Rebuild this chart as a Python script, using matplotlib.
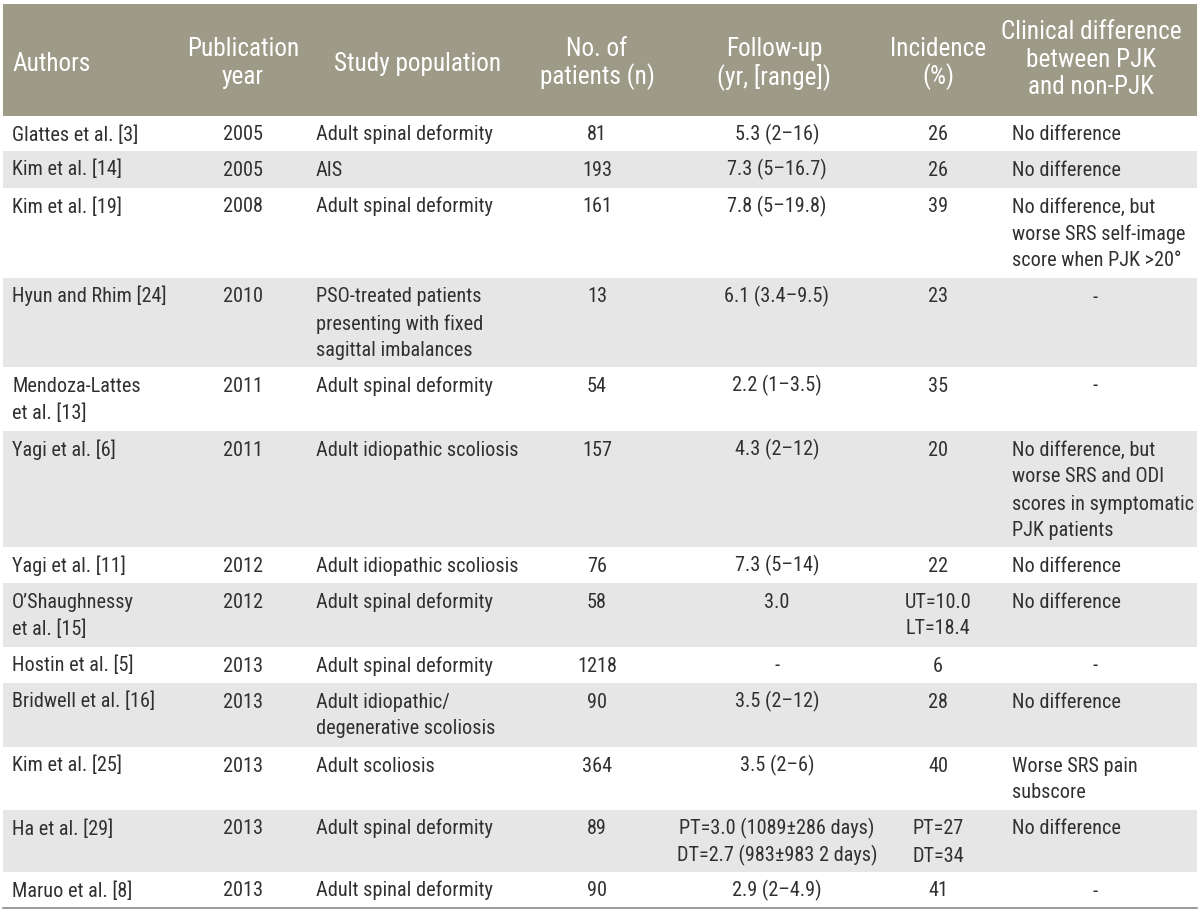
import matplotlib
matplotlib.use("Agg")
import matplotlib.pyplot as plt
from matplotlib.patches import Rectangle

# ---------------- data ----------------
headers = ["Authors", "Publication\nyear", "Study population", "No. of\npatients (n)",
           "Follow-up\n(yr, [range])", "Incidence\n(%)",
           "Clinical difference\nbetween PJK\nand non-PJK"]

authors = ["Glattes et al. [3]", "Kim et al. [14]", "Kim et al. [19]", "Hyun and Rhim [24]",
           "Mendoza-Lattes\net al. [13]", "Yagi et al. [6]", "Yagi et al. [11]",
           "O\u2019Shaughnessy\net al. [15]", "Hostin et al. [5]", "Bridwell et al. [16]",
           "Kim et al. [25]", "Ha et al. [29]", "Maruo et al. [8]"]
years = ["2005", "2005", "2008", "2010", "2011", "2011", "2012", "2012", "2013", "2013",
         "2013", "2013", "2013"]
populations = ["Adult spinal deformity", "AIS", "Adult spinal deformity",
               "PSO-treated patients\npresenting with fixed\nsagittal imbalances",
               "Adult spinal deformity", "Adult idiopathic scoliosis",
               "Adult idiopathic scoliosis", "Adult spinal deformity", "Adult spinal deformity",
               "Adult idiopathic/\ndegenerative scoliosis", "Adult scoliosis",
               "Adult spinal deformity", "Adult spinal deformity"]
n_patients = ["81", "193", "161", "13", "54", "157", "76", "58", "1218", "90", "364", "89", "90"]
follow_up = ["5.3 (2\u201316)", "7.3 (5\u201316.7)", "7.8 (5\u201319.8)", "6.1 (3.4\u20139.5)",
             "2.2 (1\u20133.5)", "4.3 (2\u201312)", "7.3 (5\u201314)", "3.0", "-",
             "3.5 (2\u201312)", "3.5 (2\u20136)",
             "PT=3.0 (1089\u00b1286 days)\nDT=2.7 (983\u00b1983 2 days)", "2.9 (2\u20134.9)"]
incidence = ["26", "26", "39", "23", "35", "20", "22", "UT=10.0\nLT=18.4", "6", "28", "40",
             "PT=27\nDT=34", "41"]
clinical = ["No difference", "No difference",
            "No difference, but\nworse SRS self-image\nscore when PJK >20\u00b0", "-", "-",
            "No difference, but\nworse SRS and ODI\nscores in symptomatic\nPJK patients",
            "No difference", "No difference", "-", "No difference",
            "Worse SRS pain\nsubscore", "No difference", "-"]

# ---------------- layout / style ----------------
W, H = 1200, 914
row_edges = [116, 151, 188, 278, 367, 431, 547, 583, 647, 683, 747, 810, 872, 908]
header_top = 4
left_x, right_x = 3, 1197
col_pos = [(12, "left"), (243, "center"), (316, "left"), (597, "center"),
           (777, "center"), (938, "center"), (1012, "left")]
header_pos = [(12, "left"), (243, "center"), (418, "center"), (597, "center"),
              (774, "center"), (938, "center"), (1091, "center")]
dash_x = 1095
# baselines of header lines for 1, 2, 3 line headers
header_baselines = {1: [71], 2: [56, 84], 3: [39, 67, 94]}

HEADER_BG = "#9d9b87"
STRIPE = "#e6e6e6"
TEXT = "#303030"
FONT = ["Roboto Condensed", "Open Sans Condensed", "Roboto", "DejaVu Sans"]
FS = 14.6
FS_HEAD = 18.2
body_line = 27
first_baseline = 24.5

plt.rcParams["font.family"] = FONT

fig = plt.figure(figsize=(W / 100, H / 100), dpi=100)
ax = fig.add_axes([0, 0, 1, 1])
ax.set_xlim(0, W)
ax.set_ylim(H, 0)
ax.axis("off")

# header band
ax.add_patch(Rectangle((left_x, header_top), right_x - left_x, row_edges[0] - header_top,
                       facecolor=HEADER_BG, edgecolor="none"))
for (x, ha), txt in zip(header_pos, headers):
    lines = txt.split("\n")
    for yb, ln in zip(header_baselines[len(lines)], lines):
        ax.text(x, yb, ln, ha=ha, va="baseline", color="white", fontsize=FS_HEAD)

columns = [authors, years, populations, n_patients, follow_up, incidence, clinical]
for r in range(len(authors)):
    top, bot = row_edges[r], row_edges[r + 1]
    if r % 2 == 1:
        ax.add_patch(Rectangle((left_x, top), right_x - left_x, bot - top,
                               facecolor=STRIPE, edgecolor="none"))
    for c, col in enumerate(columns):
        val = col[r]
        x, ha = col_pos[c]
        if c == 6 and val == "-":
            x, ha = dash_x, "center"
        for i, ln in enumerate(val.split("\n")):
            ax.text(x, top + first_baseline + i * body_line, ln, ha=ha, va="baseline",
                    color=TEXT, fontsize=FS)

ax.plot([left_x, right_x], [row_edges[-1], row_edges[-1]], color="#8a8a8a", lw=1.2)

fig.savefig("out.png", dpi=100, facecolor="white")
